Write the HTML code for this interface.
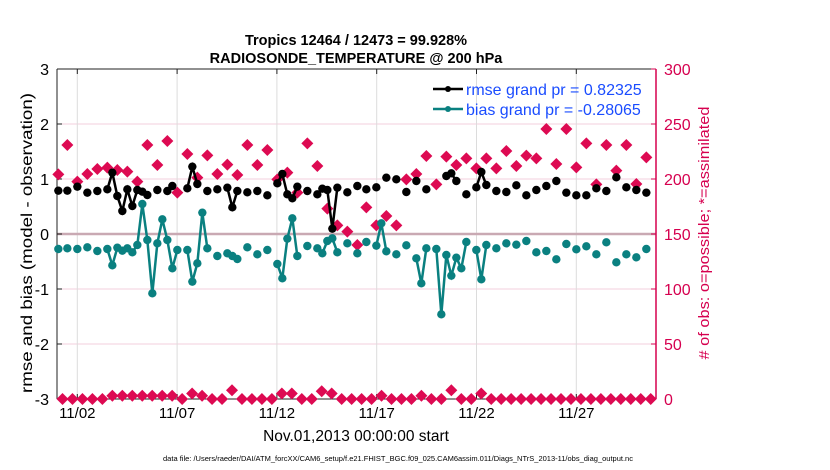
<!DOCTYPE html>
<html><head><meta charset="utf-8"><style>body{margin:0;background:#fff}svg{display:block}</style></head>
<body>
<svg id="s" width="830" height="470" xmlns="http://www.w3.org/2000/svg" font-family="Liberation Sans, sans-serif">
<rect width="830" height="470" fill="#fff"/>
<g id="grid"></g>
<g id="data"></g>
<text x="356" y="45" text-anchor="middle" font-size="14.5" font-weight="bold">Tropics 12464 / 12473 = 99.928%</text>
<text x="356" y="63" text-anchor="middle" font-size="14.5" font-weight="bold">RADIOSONDE_TEMPERATURE @ 200 hPa</text>
<g id="leg">
<line x1="433" y1="89" x2="463" y2="89" stroke="#000" stroke-width="2.5"/><circle cx="448" cy="89" r="3" fill="#000"/>
<line x1="433" y1="109" x2="463" y2="109" stroke="#0a8080" stroke-width="2.5"/><circle cx="448" cy="109" r="3" fill="#0a8080"/>
<text x="466" y="95" font-size="16" fill="#1a4cff">rmse grand pr = 0.82325</text>
<text x="466" y="115" font-size="16" fill="#1a4cff">bias grand pr = -0.28065</text>
</g>
<text transform="translate(32,243) rotate(-90)" text-anchor="middle" font-size="16" textLength="300" lengthAdjust="spacingAndGlyphs">rmse and bias (model - observation)</text>
<text transform="translate(709,233) rotate(-90)" text-anchor="middle" font-size="15" fill="#d6004f" textLength="253" lengthAdjust="spacingAndGlyphs"># of obs: o=possible; *=assimilated</text>
<text x="356" y="441" text-anchor="middle" font-size="15.5">Nov.01,2013 00:00:00 start</text>
<text x="398" y="461" text-anchor="middle" font-size="7.5">data file: /Users/raeder/DAI/ATM_forcXX/CAM6_setup/f.e21.FHIST_BGC.f09_025.CAM6assim.011/Diags_NTrS_2013-11/obs_diag_output.nc</text>
</svg>
<script>
var NS="http://www.w3.org/2000/svg";
function el(p,t,a,txt){var e=document.createElementNS(NS,t);for(var k in a)e.setAttribute(k,a[k]);if(txt!==undefined)e.textContent=txt;p.appendChild(e);return e;}
var g=document.getElementById('grid'),d=document.getElementById('data');
var L=57,R=656,T=69,B=399;
function yl(v){return 234-55*v;}
[-2,-1,1,2].forEach(function(v){el(g,'line',{x1:L,x2:R,y1:yl(v),y2:yl(v),stroke:'#f3cfdc','stroke-width':1});});
var dates=['11/02','11/07','11/12','11/17','11/22','11/27'];
for(var i=0;i<6;i++){var x=77.3+i*99.8;el(g,'line',{x1:x,x2:x,y1:T,y2:B,stroke:'#dcdcdc','stroke-width':1});
el(g,'line',{x1:x,x2:x,y1:B,y2:B-5,stroke:'#222'});el(g,'line',{x1:x,x2:x,y1:T,y2:T+5,stroke:'#222'});
el(g,'text',{x:x,y:418,'text-anchor':'middle','font-size':15},dates[i]);}
el(g,'line',{x1:L,x2:R,y1:234,y2:234,stroke:'#c9a9b3','stroke-width':2.5});
el(g,'line',{x1:L,x2:R,y1:T,y2:T,stroke:'#222'});
el(g,'line',{x1:L,x2:R,y1:B,y2:B,stroke:'#222'});
el(g,'line',{x1:L,x2:L,y1:T,y2:B,stroke:'#222'});
el(g,'line',{x1:R,x2:R,y1:T,y2:B,stroke:'#d6004f','stroke-width':1.5});
for(var v=-3;v<=3;v++){var y=yl(v);el(g,'line',{x1:L,x2:L+5,y1:y,y2:y,stroke:'#222'});
el(g,'text',{x:L-8,y:y+6,'text-anchor':'end','font-size':16},String(v));}
for(var o=0;o<=300;o+=50){var y=B-1.1*o;el(g,'line',{x1:R-5,x2:R,y1:y,y2:y,stroke:'#d6004f'});
el(g,'text',{x:R+8,y:y+6,'font-size':16,fill:'#d6004f'},String(o));}
function draw(runs,col,z){runs.forEach(function(r){var pts=r.map(function(p){return [z[0]+p[0]/3,z[1]+p[1]/3];});
if(pts.length>1)el(d,'polyline',{points:pts.map(function(p){return p.join(',')}).join(' '),fill:'none',stroke:col,'stroke-width':2.5});
pts.forEach(function(p){el(d,'circle',{cx:p[0],cy:p[1],r:4.2,fill:col});});});}
var Z1=[50,130],Z2=[350,130];
var mag=[[25,133],[52,45],[82,155],[112,132],[142,117],[172,113],[202,120],[232,125],[262,155],[292,45],[322,105],[352,33],[382,188],[412,72],[442,143],[472,76],[502,132],[532,104],[562,135],[592,45],[622,105],[652,60],[682,148],[712,128],[742,188],[772,40],[802,108],[832,236],[862,286],[892,305],[922,345]];
var mag2=[[49,232],[79,286],[109,258],[139,286],[169,148],[199,132],[229,78],[259,163],[289,80],[319,105],[349,85],[379,115],[409,85],[439,115],[469,63],[499,108],[529,77],[559,85],[589,-3],[619,102],[649,-3],[679,112],[709,40],[739,163],[769,45],[799,122],[829,45],[859,162],[889,82]];
function dia(x,y){el(d,'path',{d:'M'+x+' '+(y-6)+'L'+(x+6)+' '+y+'L'+x+' '+(y+6)+'L'+(x-6)+' '+y+'Z',fill:'#dd0a52'});}
mag.forEach(function(p){dia(50+p[0]/3,130+p[1]/3);});
mag2.forEach(function(p){dia(350+p[0]/3,130+p[1]/3);});
var bump={5:3,6:3,7:3,8:3,9:3,10:3,11:3,13:5,14:3,17:8,22:5,23:5,26:7,27:5,32:3,36:3,39:8,42:5};
for(var k=0;k<60;k++){var o=bump[k]||0;dia(62.5+k*9.97,B-1.1*o);}
draw([[[25,182]],[[52,182]],[[82,170]],[[112,188]],[[142,183]],
[[172,178],[187,128],[202,198],[217,243],[232,178],[247,228],[262,180],[277,185],[292,195]],
[[322,180]],[[352,183],[367,168]],[[412,175],[427,110],[442,162]],[[472,183]],[[502,178]],
[[532,173],[547,232],[562,183]],[[592,187]],[[622,183]],[[652,196]],
[[682,160],[697,132],[712,193],[727,205],[742,170]],[[772,183]],
[[802,193],[817,176],[832,180],[847,296],[862,173]],[[892,187]]],'#000',Z1);
draw([[[22,168]],[[49,178]],[[79,172]],[[109,143]],[[139,148]],[[169,186]],[[199,153]],[[229,178]],
[[289,138],[304,130],[319,153]],[[349,193]],[[379,172],[394,126],[409,165]],[[439,183]],[[469,186]],[[499,166]],[[529,196]],[[559,180]],[[589,168]],[[619,153]],[[649,188]],[[679,196]],[[709,196]],[[739,175]],[[769,183]],[[799,142]],[[829,172]],[[859,180]],[[889,188]]],'#000',Z2);
var TC='#0a8080';
draw([[[25,357]],[[52,355]],[[82,357]],[[112,352]],[[142,363]],
[[172,357],[187,406],[202,353],[217,362],[232,355],[247,367],[262,345],[277,222],[292,330],[307,490],[322,340],[337,268],[352,330],[367,415],[382,360]],
[[412,360],[427,455],[442,400],[457,248],[472,355]],[[502,378]],[[532,370],[547,378],[562,387]],[[592,352]],[[622,373]],[[652,360]],
[[682,402],[697,445],[712,326],[727,265],[742,378]],[[772,348]],[[802,355],[817,370],[832,333],[847,325],[862,367]],[[892,340]]],TC,Z1);
draw([[[22,370]],[[49,336]],[[79,347],[94,280],[109,364]],[[139,373]],[[169,346]],[[199,385],[214,460],[229,355]],
[[259,357],[274,553],[289,375],[304,437],[319,383],[334,415],[349,336]],[[379,360],[394,448],[409,345]],
[[439,355]],[[469,340]],[[499,344]],[[529,333]],[[559,367]],[[589,363]],[[619,388]],[[649,342]],[[679,358]],[[709,349]],[[739,373]],[[769,337]],[[799,397]],[[829,373]],[[859,382]],[[889,357]]],TC,Z2);
</script>
</body></html>
